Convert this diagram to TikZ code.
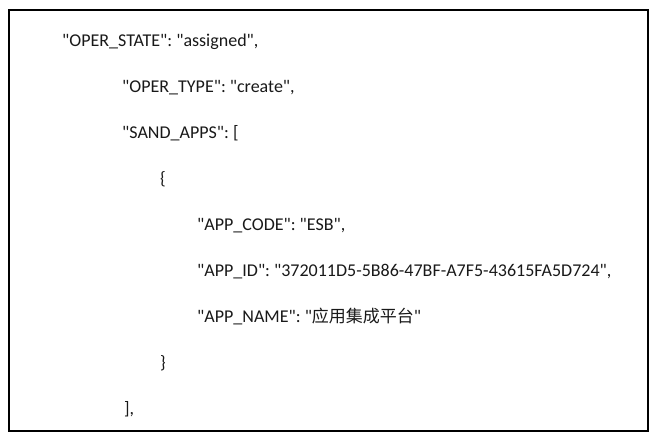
\documentclass[tikz,border=0pt]{standalone}
\usepackage{fontspec}
\setmainfont{Carlito}
\newfontfamily\cjk{Noto Sans CJK SC}
\newcommand\qmk{\textquotedbl}
\begin{document}
\begin{tikzpicture}[x=1pt,y=-1pt,
  codeline/.style={anchor=base west, inner sep=0pt, font=\fontsize{18}{20}\selectfont, text=black!90}]
\useasboundingbox (0,0) rectangle (655,440);
\fill[white] (0,0) rectangle (655,440);
\node[draw=black, line width=1.5pt, minimum width=639pt, minimum height=421pt, anchor=north west, inner sep=0pt] (frame) at (8,9) {};
\node[codeline] (l1) at (62,46) {\qmk OPER\_STATE\qmk: \qmk assigned\qmk,};
\node[codeline] (l2) at (122,92) {\qmk OPER\_TYPE\qmk: \qmk create\qmk,};
\node[codeline] (l3) at (122,138) {\qmk SAND\_APPS\qmk: [};
\node[codeline] (l4) at (160,184) {\{};
\node[codeline] (l5) at (197,230) {\qmk APP\_CODE\qmk: \qmk ESB\qmk,};
\node[codeline] (l6) at (197,276) {\qmk APP\_ID\qmk: \qmk 372011D5-5B86-47BF-A7F5-43615FA5D724\qmk,};
\node[codeline] (l7) at (197,322) {\qmk APP\_NAME\qmk: \qmk{\cjk\fontsize{17}{20}\selectfont 应用集成平台}\qmk};
\node[codeline] (l8) at (160,368) {\}};
\node[codeline] (l9) at (124,414) {],};
\end{tikzpicture}
\end{document}
